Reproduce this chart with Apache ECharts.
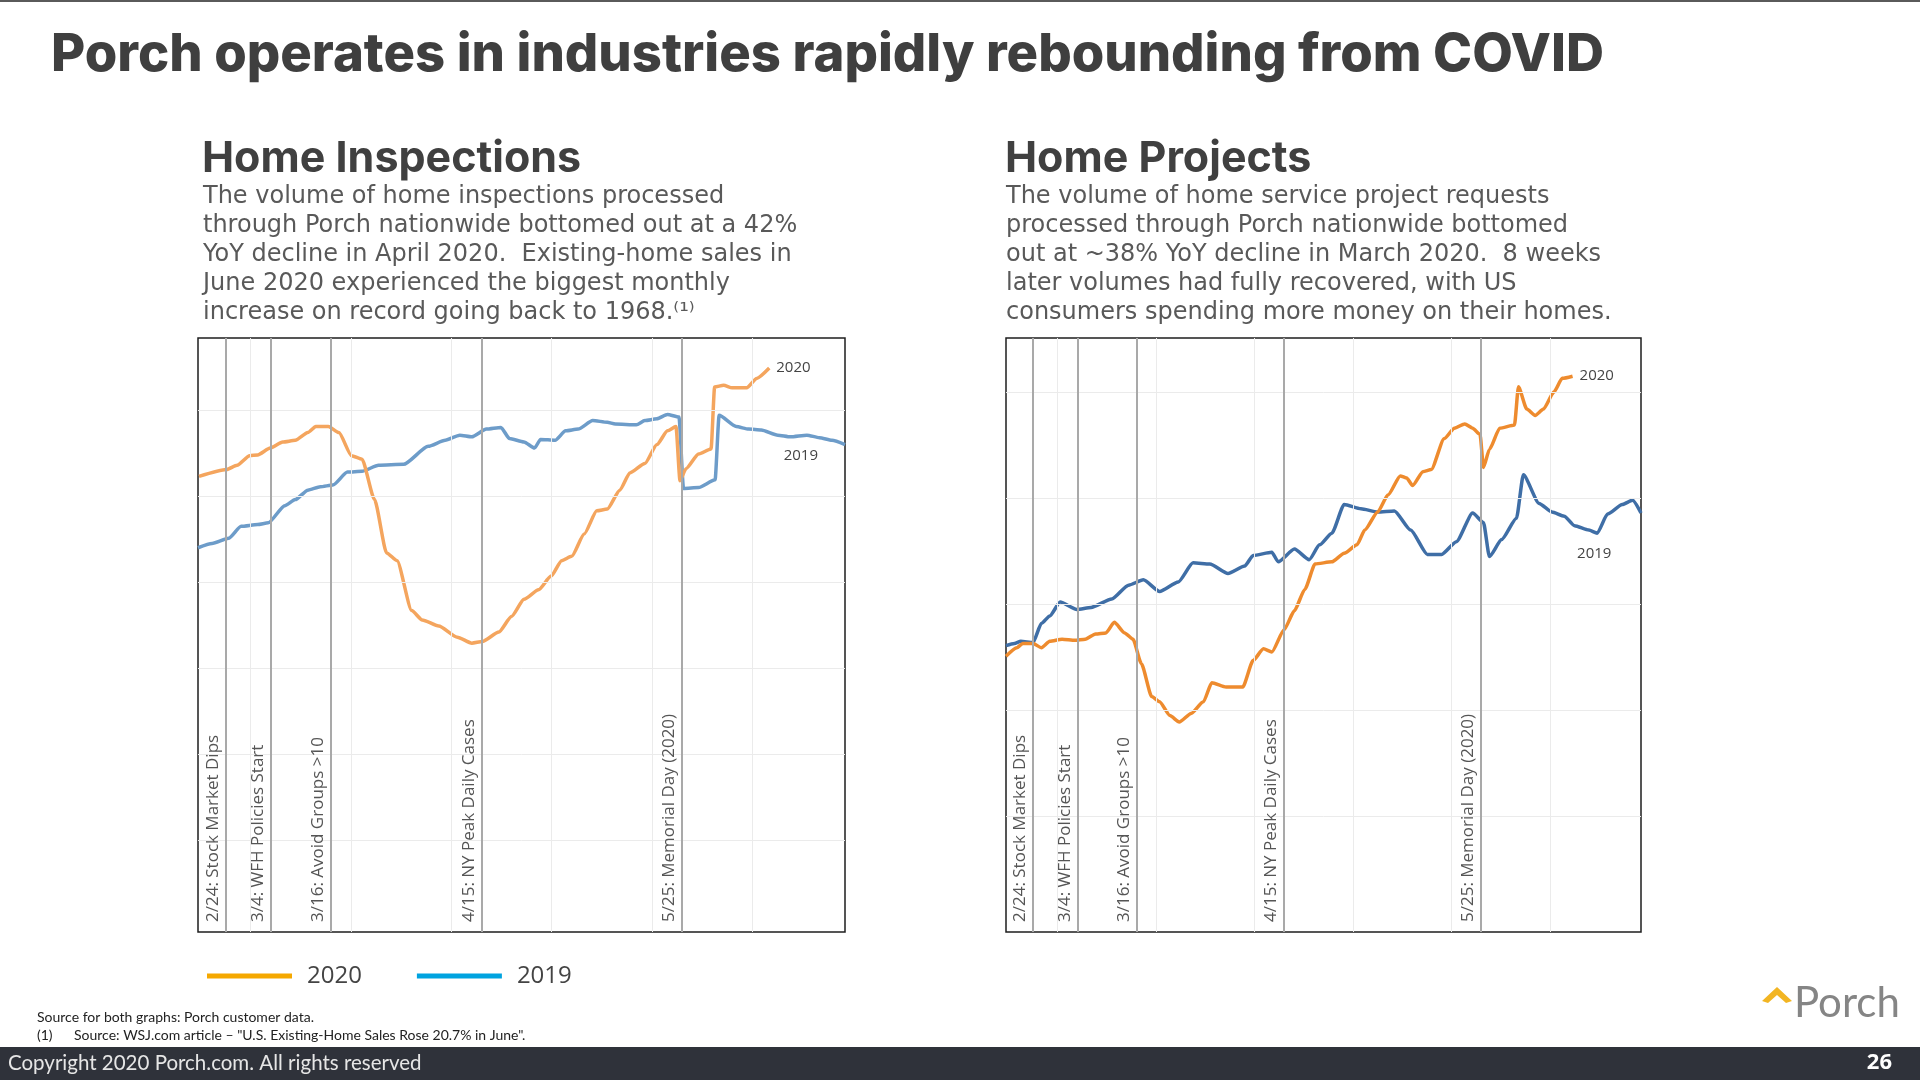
<!DOCTYPE html>
<html>
<head>
<meta charset="utf-8">
<script src="https://cdn.jsdelivr.net/npm/echarts@6/dist/echarts.min.js"></script>
<style>
html,body{margin:0;padding:0;background:#fff;}
#chart{width:1920px;height:1080px;}
</style>
</head>
<body>
<div id="chart"></div>
<script>
// x values: days after 2020-02-24
const eventDays = [0, 9, 21, 51, 91];
const eventLabels = ['2/24: Stock Market Dips', '3/4: WFH Policies Start', '3/16: Avoid Groups >10', '4/15: NY Peak Daily Cases', '5/25: Memorial Day (2020)'];
const gridDays = [5, 25, 45, 65, 85, 105];

// Home Inspections
const inspDays2020 = [-5.3,0.2,2.3,4.8,6.4,8.9,11.4,13.9,16.4,18.0,20.5,22.6,25.1,27.2,29.7,32.1,34.2,37.1,39.2,42.5,46.2,49.1,51.2,54.5,57.0,59.5,62.4,64.9,67.0,69.0,71.5,74.0,76.1,78.6,80.6,83.6,86.0,88.1,89.8,90.6,91.8,94.3,96.8,97.5,99.3,101.0,103.9,105.9,108.4];
const insp2020 = [52.3,53.1,53.6,54.7,54.8,55.6,56.3,56.5,57.4,58.1,58.1,57.4,54.7,54.3,49.6,43.4,42.5,36.7,35.6,34.9,33.6,32.9,33.1,34.2,36.0,38.0,39.1,40.7,42.5,43.0,45.6,48.3,48.5,50.7,52.7,53.8,56.0,57.6,58.1,51.8,53.2,54.9,55.5,62.7,62.9,62.6,62.6,63.7,64.9];
const inspDays2019 = [-5.5,-2.7,0.6,3.1,6.4,8.5,11.8,13.9,16.4,18.9,21.4,24.3,27.2,30.5,35.5,40.4,43.8,46.7,49.1,52.0,54.9,56.6,59.5,61.6,62.8,65.7,67.8,70.3,73.2,76.1,77.7,81.9,83.6,86.0,88.1,90.4,91.3,94.3,97.6,98.4,101.8,104.3,106.8,110.1,112.6,115.9,118.4,120.9,123.5];
const insp2019 = [44.0,44.5,45.1,46.5,46.7,46.9,48.9,49.6,50.7,51.1,51.3,52.8,52.9,53.6,53.7,55.8,56.5,57.1,56.9,57.8,58.0,56.7,56.3,55.6,56.6,56.5,57.6,57.8,58.8,58.6,58.4,58.3,58.8,59.0,59.5,59.2,50.9,51.0,51.9,59.4,58.1,57.8,57.7,57.1,56.9,57.1,56.8,56.5,56.0];
const inspGridValues = [10, 20, 30, 40, 50, 60];

// Home Projects
const projDays2020 = [-5.5,-3.3,-2.1,0,1.7,3.4,5.9,8.5,10.6,12.7,14.8,16.5,18.6,20.3,22.0,24.1,25.7,27.8,29.7,32.1,34.6,36.3,39.2,42.6,44.7,46.8,48.5,51.0,53.1,55.2,57.3,60.7,63.2,65.8,67.4,70.0,72.1,74.6,75.9,77.1,79.2,80.9,83.5,85.6,87.7,89.3,90.8,91.5,92.7,94.8,97.8,98.6,100.3,102.0,103.7,105.8,107.5,109.6];
const proj2020 = [25.1,25.9,26.3,26.3,25.9,26.5,26.7,26.6,26.7,27.2,27.3,28.3,27.3,26.7,24.4,21.3,20.8,19.5,18.9,19.7,20.8,22.6,22.2,22.2,24.7,25.8,25.5,27.6,29.4,31.4,33.8,34.0,34.8,35.6,37.0,38.7,40.3,42.1,41.9,41.2,42.5,42.7,45.6,46.6,47.0,46.6,46.0,42.9,44.6,46.6,46.9,50.5,48.4,47.8,48.4,50.0,51.3,51.5];
const projDays2019 = [-5.5,-3.8,-2.5,0,1.7,3.4,5.5,8.9,11.8,16.0,19.4,22.4,25.7,29.5,32.5,35.9,39.6,43.0,44.7,48.5,49.8,53.1,56.1,58.2,60.7,63.2,66.6,70.0,73.4,76.7,80.1,83.0,86.0,89.3,91.5,92.7,95.2,98.2,99.6,102.8,105.4,107.9,110.0,112.9,114.6,116.7,119.7,121.8,123.5];
const proj2019 = [26.1,26.3,26.5,26.4,28.2,28.9,30.2,29.5,29.7,30.5,31.8,32.3,31.2,32.1,33.9,33.8,32.9,33.6,34.6,34.9,34.0,35.2,34.2,35.6,36.7,39.4,39.0,38.7,38.8,37.0,34.7,34.7,35.9,38.6,37.7,34.5,36.1,38.1,42.2,39.5,38.7,38.3,37.4,37.0,36.7,38.5,39.4,39.8,38.6];
const projGridValues = [10, 20, 30, 40, 50];

const seriesNames = ['2020', '2019'];

function pairs(days, vals) { return days.map((d, i) => [d, vals[i]]); }

function refLines(gridVals) {
  const items = [];
  gridDays.forEach(d => items.push({xAxis: d, lineStyle: {color: '#ebebeb', width: 1, type: 'solid'}, label: {show: false}}));
  gridVals.forEach(v => items.push({yAxis: v, lineStyle: {color: '#ebebeb', width: 1, type: 'solid'}, label: {show: false}}));
  eventDays.forEach((d, i) => items.push({xAxis: d, lineStyle: {color: '#a9a9a9', width: 2, type: 'solid'},
    label: {show: true, formatter: eventLabels[i]}}));
  return items;
}

function frameSeries(idx, gridVals) {
  return {
    name: 'frame' + idx, type: 'line', xAxisIndex: idx, yAxisIndex: idx, data: [], silent: true, z: 1,
    markLine: {
      silent: true, symbol: ['none', 'none'], animation: false,
      label: {position: 'insideStartTop', color: '#555', fontSize: 17, fontFamily: 'Open Sans', distance: [10, 4]},
      emphasis: {disabled: true},
      data: refLines(gridVals)
    }
  };
}

function lineSeries(idx, name, data, color, endLbl, pointCoord) {
  const s = {
    name: name, type: 'line', xAxisIndex: idx, yAxisIndex: idx, data: data,
    showSymbol: false, symbol: 'none', smooth: 0.2, smoothMonotone: 'x', z: 3,
    lineStyle: {color: color, width: 3.5}, itemStyle: {color: color},
    animation: false, emphasis: {disabled: true}
  };
  if (endLbl) s.endLabel = {show: true, formatter: name, color: '#444', fontSize: 15, fontFamily: 'Open Sans', distance: 7};
  if (pointCoord) s.markPoint = {symbol: 'circle', symbolSize: 1, itemStyle: {color: 'rgba(0,0,0,0)'}, silent: true,
    label: {show: true, position: 'inside', formatter: name, color: '#444', fontSize: 15, fontFamily: 'Open Sans'},
    data: [{coord: pointCoord}]};
  return s;
}

const chart = echarts.init(document.getElementById('chart'), null, {renderer: 'canvas'});

const hiddenAxis = {axisLine: {show: false}, axisTick: {show: false}, axisLabel: {show: false}, splitLine: {show: false}};

const option = {
  backgroundColor: '#ffffff',
  animation: false,
  grid: [
    {left: 198, top: 338, width: 647, height: 594, show: true, borderColor: '#1e1e1e', borderWidth: 1.5, backgroundColor: '#fff'},
    {left: 1006, top: 338, width: 635, height: 594, show: true, borderColor: '#1e1e1e', borderWidth: 1.5, backgroundColor: '#fff'}
  ],
  xAxis: [
    Object.assign({type: 'value', gridIndex: 0, min: -5.5, max: 123.5}, hiddenAxis),
    Object.assign({type: 'value', gridIndex: 1, min: -5.5, max: 123.5}, hiddenAxis)
  ],
  yAxis: [
    Object.assign({type: 'value', gridIndex: 0, min: -0.7, max: 68.4}, hiddenAxis),
    Object.assign({type: 'value', gridIndex: 1, min: -0.9, max: 55.1}, hiddenAxis)
  ],
  legend: {
    left: 202, top: 959, icon: 'rect', itemWidth: 85, itemHeight: 5, itemGap: 55,
    selectedMode: false,
    textStyle: {fontSize: 24, color: '#444', fontFamily: 'Open Sans', padding: [0, 0, 0, 10]},
    data: [{name: seriesNames[0], itemStyle: {color: '#F5A800'}}, {name: seriesNames[1], itemStyle: {color: '#00A3E0'}}]
  },
  series: [
    frameSeries(0, inspGridValues),
    lineSeries(0, seriesNames[1], pairs(inspDays2019, insp2019), '#6D9CC9', false, [114.7, 54.7]),
    lineSeries(0, seriesNames[0], pairs(inspDays2020, insp2020), '#F4A55E', true, null),
    frameSeries(1, projGridValues),
    lineSeries(1, seriesNames[1], pairs(projDays2019, proj2019), '#3F6EA6', false, [114, 34.8]),
    lineSeries(1, seriesNames[0], pairs(projDays2020, proj2020), '#EE8B2E', true, null)
  ],
  graphic: [
    {type: 'rect', shape: {x: 0, y: 0, width: 1920, height: 2}, style: {fill: '#5a5a5a'}, silent: true},
    {type: 'text', x: 51, y: 55, style: {text: 'Porch operates in industries rapidly rebounding from COVID', font: '800 52.6px Inter', fill: '#3f3f3f', textVerticalAlign: 'middle'}},
    {type: 'text', x: 202, y: 159, style: {text: 'Home Inspections', font: '700 43px Inter', fill: '#404040', textVerticalAlign: 'middle'}},
    {type: 'text', x: 203, y: 182, style: {text: 'The volume of home inspections processed\nthrough Porch nationwide bottomed out at a 42%\nYoY decline in April 2020.  Existing-home sales in\nJune 2020 experienced the biggest monthly\nincrease on record going back to 1968.⁽¹⁾', font: '400 24px "DejaVu Sans"', fill: '#595959', lineHeight: 29, textVerticalAlign: 'top'}},
    {type: 'text', x: 1005, y: 159, style: {text: 'Home Projects', font: '700 43px Inter', fill: '#404040', textVerticalAlign: 'middle'}},
    {type: 'text', x: 1006, y: 182, style: {text: 'The volume of home service project requests\nprocessed through Porch nationwide bottomed\nout at ~38% YoY decline in March 2020.  8 weeks\nlater volumes had fully recovered, with US\nconsumers spending more money on their homes.', font: '400 24px "DejaVu Sans"', fill: '#595959', lineHeight: 29, textVerticalAlign: 'top'}},
    {type: 'text', x: 37, y: 1017, style: {text: 'Source for both graphs: Porch customer data.', font: '400 14px Lato', fill: '#222', textVerticalAlign: 'middle'}},
    {type: 'text', x: 37, y: 1035, style: {text: '(1)', font: '400 14px Lato', fill: '#222', textVerticalAlign: 'middle'}},
    {type: 'text', x: 74, y: 1035, style: {text: 'Source: WSJ.com article – "U.S. Existing-Home Sales Rose 20.7% in June".', font: '400 14px Lato', fill: '#222', textVerticalAlign: 'middle'}},
    {type: 'polygon', shape: {points: [[1762, 1001], [1777, 987], [1792, 1001], [1786, 1003], [1777, 995], [1768, 1003]]}, style: {fill: '#F2B523'}, silent: true},
    {type: 'text', x: 1794, y: 1003, style: {text: 'Porch', font: '400 42px Lato', fill: '#858585', textVerticalAlign: 'middle'}},
    {type: 'rect', shape: {x: 0, y: 1047, width: 1920, height: 33}, style: {fill: '#2f323a'}, silent: true},
    {type: 'text', x: 8, y: 1063, style: {text: 'Copyright 2020 Porch.com. All rights reserved', font: '400 20.5px Lato', fill: '#e6e6e6', textVerticalAlign: 'middle'}},
    {type: 'text', x: 1892, y: 1063, style: {text: '26', font: '700 22px "Open Sans"', fill: '#ffffff', textVerticalAlign: 'middle', textAlign: 'right'}}
  ]
};
chart.setOption(option);
</script>
</body>
</html>
